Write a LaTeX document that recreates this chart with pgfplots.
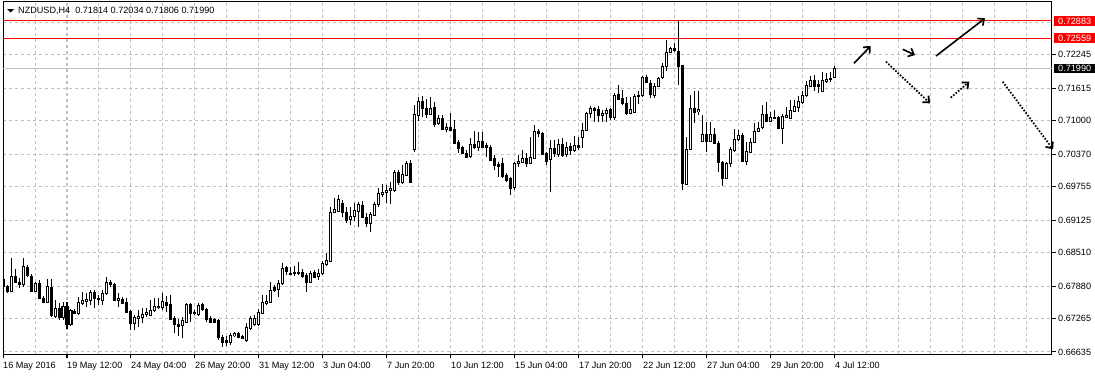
\documentclass[border=0pt]{standalone}
\usepackage{pgfplots}
\usepackage{pgfplotstable}
\pgfplotsset{compat=1.18}
\usetikzlibrary{arrows.meta}
\usepackage{fontspec}
\setmainfont{Liberation Sans}
\newcommand{\lblfont}{\fontsize{9.1}{11}\selectfont}
\definecolor{gridgray}{RGB}{192,192,192}
\definecolor{mtred}{RGB}{255,0,0}

\pgfplotstableread{
i o h l c
0 0.67994 0.68013 0.67805 0.67862
1 0.67862 0.67900 0.67748 0.67786
2 0.67786 0.68409 0.67767 0.68069
3 0.68069 0.68201 0.67937 0.67956
4 0.67956 0.68031 0.67843 0.67918
5 0.67900 0.68409 0.67862 0.68239
6 0.68239 0.68276 0.68050 0.68088
7 0.68069 0.68107 0.67767 0.67786
8 0.67786 0.67956 0.67767 0.67937
9 0.67937 0.67994 0.67635 0.67654
10 0.67654 0.67692 0.67559 0.67578
11 0.67578 0.68013 0.67559 0.67862
12 0.67862 0.68013 0.67295 0.67333
13 0.67314 0.67616 0.67276 0.67465
14 0.67465 0.67559 0.67239 0.67295
15 0.67295 0.67578 0.67239 0.67503
16 0.67503 0.67578 0.67069 0.67163
17 0.67163 0.67446 0.67126 0.67427
18 0.67408 0.67446 0.67351 0.67370
19 0.67370 0.67673 0.67333 0.67578
20 0.67559 0.67767 0.67522 0.67616
21 0.67597 0.67748 0.67484 0.67635
22 0.67616 0.67805 0.67522 0.67767
23 0.67767 0.67805 0.67465 0.67654
24 0.67654 0.67711 0.67522 0.67635
25 0.67616 0.67805 0.67522 0.67748
26 0.67748 0.68050 0.67711 0.67956
27 0.67956 0.67994 0.67862 0.67900
28 0.67918 0.67937 0.67597 0.67616
29 0.67616 0.67748 0.67484 0.67654
30 0.67635 0.67673 0.67540 0.67559
31 0.67578 0.67654 0.67370 0.67389
32 0.67408 0.67427 0.67050 0.67182
33 0.67182 0.67333 0.67050 0.67295
34 0.67276 0.67427 0.67107 0.67314
35 0.67295 0.67465 0.67182 0.67351
36 0.67351 0.67465 0.67295 0.67389
37 0.67333 0.67616 0.67314 0.67427
38 0.67427 0.67654 0.67389 0.67503
39 0.67484 0.67654 0.67446 0.67503
40 0.67484 0.67748 0.67427 0.67597
41 0.67578 0.67692 0.67389 0.67522
42 0.67540 0.67711 0.67239 0.67258
43 0.67276 0.67314 0.66993 0.67163
44 0.67163 0.67258 0.66937 0.67126
45 0.67145 0.67295 0.66899 0.67239
46 0.67201 0.67559 0.67182 0.67540
47 0.67540 0.67559 0.67201 0.67370
48 0.67370 0.67427 0.67333 0.67389
49 0.67351 0.67559 0.67314 0.67522
50 0.67522 0.67559 0.67408 0.67446
51 0.67446 0.67465 0.67201 0.67258
52 0.67276 0.67314 0.67182 0.67201
53 0.67239 0.67276 0.67182 0.67201
54 0.67239 0.67258 0.66861 0.66918
55 0.66918 0.66956 0.66729 0.66823
56 0.66861 0.66937 0.66748 0.66823
57 0.66823 0.66993 0.66767 0.66937
58 0.66937 0.67012 0.66918 0.66993
59 0.66993 0.67012 0.66899 0.66918
60 0.66937 0.66956 0.66880 0.66899
61 0.66861 0.67182 0.66823 0.67107
62 0.67088 0.67314 0.67050 0.67276
63 0.67163 0.67333 0.67126 0.67276
64 0.67163 0.67446 0.67126 0.67389
65 0.67370 0.67711 0.67351 0.67578
66 0.67559 0.67711 0.67522 0.67597
67 0.67578 0.67956 0.67559 0.67805
68 0.67843 0.67900 0.67767 0.67805
69 0.67824 0.67994 0.67673 0.67937
70 0.67937 0.68314 0.67900 0.68220
71 0.68220 0.68258 0.68088 0.68163
72 0.68125 0.68239 0.68088 0.68107
73 0.68144 0.68258 0.68069 0.68125
74 0.68144 0.68333 0.68088 0.68125
75 0.68144 0.68201 0.68031 0.68069
76 0.68088 0.68125 0.67767 0.67956
77 0.67956 0.68163 0.67937 0.68125
78 0.68144 0.68182 0.68031 0.68050
79 0.68069 0.68201 0.67994 0.68125
80 0.68125 0.68352 0.68088 0.68314
81 0.68295 0.68503 0.68258 0.68371
82 0.68352 0.69372 0.68333 0.69277
83 0.69277 0.69542 0.69258 0.69334
84 0.69296 0.69599 0.69277 0.69523
85 0.69447 0.69504 0.69183 0.69277
86 0.69277 0.69372 0.69069 0.69126
87 0.69145 0.69372 0.69032 0.69183
88 0.69183 0.69447 0.69107 0.69315
89 0.69296 0.69466 0.68994 0.69410
90 0.69410 0.69485 0.69164 0.69183
91 0.69183 0.69258 0.68994 0.69069
92 0.69069 0.69277 0.68900 0.69239
93 0.69220 0.69466 0.69201 0.69428
94 0.69428 0.69731 0.69372 0.69636
95 0.69617 0.69805 0.69561 0.69655
96 0.69655 0.69787 0.69447 0.69693
97 0.69693 0.69843 0.69428 0.69731
98 0.69693 0.70070 0.69655 0.70032
99 0.70032 0.70070 0.69787 0.69843
100 0.69843 0.70165 0.69805 0.69994
101 0.69976 0.70240 0.69957 0.70202
102 0.70202 0.70259 0.69824 0.69843
103 0.70467 0.71297 0.70410 0.71127
104 0.71108 0.71448 0.70995 0.71372
105 0.71372 0.71467 0.71070 0.71240
106 0.71240 0.71410 0.71052 0.71127
107 0.71127 0.71448 0.71108 0.71240
108 0.71259 0.71353 0.70881 0.70938
109 0.70957 0.71108 0.70919 0.71052
110 0.71052 0.71108 0.70825 0.70844
111 0.70844 0.70957 0.70787 0.70881
112 0.70881 0.71146 0.70806 0.70825
113 0.70844 0.71014 0.70560 0.70579
114 0.70598 0.70636 0.70391 0.70486
115 0.70486 0.70523 0.70372 0.70391
116 0.70391 0.70448 0.70297 0.70316
117 0.70316 0.70674 0.70297 0.70560
118 0.70560 0.70806 0.70467 0.70504
119 0.70504 0.70787 0.70429 0.70617
120 0.70617 0.70787 0.70486 0.70504
121 0.70542 0.70579 0.70316 0.70486
122 0.70486 0.70542 0.70240 0.70259
123 0.70278 0.70353 0.70070 0.70146
124 0.70184 0.70221 0.69938 0.70146
125 0.70184 0.70297 0.69919 0.69957
126 0.69976 0.70013 0.69843 0.69881
127 0.69919 0.69938 0.69599 0.69731
128 0.69731 0.70221 0.69693 0.70202
129 0.70202 0.70353 0.70127 0.70240
130 0.70221 0.70448 0.70202 0.70297
131 0.70297 0.70391 0.70127 0.70202
132 0.70202 0.70693 0.70184 0.70316
133 0.70297 0.70919 0.70278 0.70806
134 0.70806 0.70844 0.70693 0.70768
135 0.70768 0.70787 0.70353 0.70372
136 0.70391 0.70410 0.70165 0.70240
137 0.70259 0.70636 0.69655 0.70467
138 0.70467 0.70636 0.70316 0.70372
139 0.70372 0.70655 0.70316 0.70560
140 0.70560 0.70674 0.70316 0.70353
141 0.70372 0.70598 0.70316 0.70504
142 0.70523 0.70579 0.70353 0.70448
143 0.70448 0.70712 0.70410 0.70542
144 0.70542 0.70693 0.70448 0.70504
145 0.70693 0.70957 0.70486 0.70825
146 0.70825 0.71165 0.70806 0.71146
147 0.71146 0.71278 0.71052 0.71240
148 0.71240 0.71259 0.70976 0.71203
149 0.71221 0.71278 0.70976 0.71108
150 0.71108 0.71203 0.70976 0.71146
151 0.71146 0.71240 0.70976 0.71203
152 0.71221 0.71240 0.71014 0.71070
153 0.71070 0.71524 0.71014 0.71486
154 0.71486 0.71675 0.71391 0.71410
155 0.71429 0.71580 0.71297 0.71334
156 0.71334 0.71448 0.71108 0.71146
157 0.71146 0.71448 0.71127 0.71221
158 0.71165 0.71505 0.71146 0.71467
159 0.71486 0.71561 0.71315 0.71467
160 0.71467 0.71845 0.71448 0.71807
161 0.71826 0.71864 0.71712 0.71731
162 0.71712 0.71769 0.71429 0.71486
163 0.71486 0.71712 0.71429 0.71656
164 0.71656 0.71826 0.71637 0.71807
165 0.71807 0.72090 0.71788 0.72033
166 0.72033 0.72524 0.71939 0.72297
167 0.72297 0.72392 0.72278 0.72373
168 0.72373 0.72467 0.72297 0.72335
169 0.72316 0.72883 0.71675 0.72033
170 0.72052 0.72052 0.69693 0.69824
171 0.69805 0.70693 0.69787 0.70467
172 0.70467 0.71486 0.70448 0.71240
173 0.71240 0.71561 0.70957 0.71165
174 0.71165 0.71561 0.71108 0.71221
175 0.70617 0.71108 0.70598 0.70749
176 0.70749 0.70976 0.70410 0.70617
177 0.70617 0.70976 0.70598 0.70749
178 0.70749 0.70863 0.70560 0.70579
179 0.70579 0.70617 0.70032 0.70221
180 0.70221 0.70240 0.69768 0.69919
181 0.69919 0.70221 0.69900 0.70202
182 0.70202 0.70504 0.70127 0.70448
183 0.70448 0.70844 0.70410 0.70655
184 0.70655 0.70825 0.70617 0.70730
185 0.70730 0.70768 0.70221 0.70240
186 0.70240 0.70598 0.70165 0.70429
187 0.70410 0.70674 0.70391 0.70598
188 0.70598 0.70957 0.70579 0.70806
189 0.70806 0.70976 0.70787 0.70863
190 0.70863 0.71297 0.70844 0.71127
191 0.71127 0.71353 0.70976 0.70995
192 0.70995 0.71165 0.70976 0.71070
193 0.71070 0.71203 0.71052 0.71052
194 0.71070 0.71089 0.70844 0.70863
195 0.70863 0.71127 0.70560 0.71089
196 0.71070 0.71259 0.71052 0.71108
197 0.71052 0.71391 0.71033 0.71203
198 0.71184 0.71391 0.71165 0.71278
199 0.71259 0.71467 0.71165 0.71372
200 0.71353 0.71561 0.71315 0.71486
201 0.71486 0.71750 0.71448 0.71675
202 0.71656 0.71845 0.71637 0.71769
203 0.71769 0.71864 0.71561 0.71656
204 0.71693 0.71769 0.71524 0.71656
205 0.71561 0.71920 0.71542 0.71769
206 0.71750 0.71901 0.71712 0.71788
207 0.71807 0.71920 0.71731 0.71788
208 0.71814 0.72034 0.71806 0.71990
}\candles

\begin{document}
\begin{tikzpicture}
\useasboundingbox (-3pt,-22pt) rectangle (1092pt,354pt);
\begin{axis}[
  at={(0pt,0pt)}, anchor=south west,
  scale only axis, width=1049pt, height=353pt,
  xmin=0, xmax=262.25, ymin=0.665969, ymax=0.732601,
  axis line style={black, line width=1pt},
  tick align=outside, major tick length=4pt, minor tick length=0pt,
  tick style={black, line width=1pt},
  xtick pos=left, ytick pos=right,
  xtick={0,16,...,208},
  xticklabels={16 May 2016, 19 May 12:00, 24 May 04:00, 26 May 20:00, 31 May 12:00, 3 Jun 04:00, 7 Jun 20:00, 10 Jun 12:00, 15 Jun 04:00, 17 Jun 20:00, 22 Jun 12:00, 27 Jun 04:00, 29 Jun 20:00, 4 Jul 12:00},
  minor xtick={8,24,40,56,72,88,104,120,136,152,168,184,200,216,224,232,240,248,256},
  ytick={0.66635,0.67265,0.67880,0.68510,0.69125,0.69755,0.70370,0.71000,0.71615,0.72245},
  yticklabels={0.66635,0.67265,0.67880,0.68510,0.69125,0.69755,0.70370,0.71000,0.71615,0.72245},
  minor ytick={0.72863},
  xmajorgrids, xminorgrids, ymajorgrids, yminorgrids,
  grid style={gridgray, line width=1pt, dash pattern=on 3pt off 3pt},
  minor grid style={gridgray, line width=1pt, dash pattern=on 3pt off 3pt},
  xticklabel style={font=\lblfont, anchor=north west, inner sep=0pt, yshift=-4pt},
  yticklabel style={font=\lblfont, anchor=west, inner sep=0pt, xshift=2pt},
]
% price lines
\addplot[gridgray, line width=1pt] coordinates {(0,0.71990) (262.25,0.71990)};
\addplot[mtred, line width=1pt] coordinates {(0,0.72883) (262.25,0.72883)};
\addplot[mtred, line width=1pt] coordinates {(0,0.72559) (262.25,0.72559)};
% wicks
\addplot[draw=none, no marks,
  error bars/.cd, y dir=plus, y explicit, error mark=none,
  error bar style={line width=1pt, draw=black, solid}]
  table[x=i, y=l, y error expr={\thisrow{h}-\thisrow{l}}] {\candles};
% bearish bodies
\addplot[draw=none, no marks,
  restrict expr to domain={\thisrow{o}-\thisrow{c}}{0:1},
  error bars/.cd, y dir=both, y explicit, error mark=none,
  error bar style={line width=3pt, draw=black, solid}]
  table[x=i, y expr={(\thisrow{o}+\thisrow{c})/2}, y error expr={(\thisrow{o}-\thisrow{c})/2+0.0000944}] {\candles};
% bullish bodies: outline
\addplot[draw=none, no marks,
  restrict expr to domain={\thisrow{c}-\thisrow{o}}{0.000001:1},
  error bars/.cd, y dir=both, y explicit, error mark=none,
  error bar style={line width=3pt, draw=black, solid}]
  table[x=i, y expr={(\thisrow{o}+\thisrow{c})/2}, y error expr={(\thisrow{c}-\thisrow{o})/2+0.0000944}] {\candles};
% bullish bodies: hollow inside
\addplot[draw=none, no marks,
  restrict expr to domain={\thisrow{c}-\thisrow{o}}{0.000001:1},
  error bars/.cd, y dir=both, y explicit, error mark=none,
  error bar style={line width=1pt, draw=white, solid}]
  table[x=i, y expr={(\thisrow{o}+\thisrow{c})/2}, y error expr={max((\thisrow{c}-\thisrow{o})/2-0.0000944,0)}] {\candles};
\coordinate (rA) at (axis cs:262.25,0.72883);
\coordinate (rB) at (axis cs:262.25,0.72559);
\coordinate (rC) at (axis cs:262.25,0.71990);
\end{axis}
% price tags on the right
\node[fill=mtred, text=white, font=\lblfont, anchor=west, xshift=2pt, minimum width=41pt, inner xsep=0pt, inner ysep=1.5pt, text height=6.5pt, text depth=0pt] at (rA) {0.72883};
\node[fill=mtred, text=white, font=\lblfont, anchor=west, xshift=2pt, minimum width=41pt, inner xsep=0pt, inner ysep=1.5pt, text height=6.5pt, text depth=0pt] at (rB) {0.72559};
\node[fill=black, text=white, font=\lblfont, anchor=west, xshift=2pt, minimum width=41pt, inner xsep=0pt, inner ysep=1.5pt, text height=6.5pt, text depth=0pt] at (rC) {0.71990};
% header
\fill (4pt,345pt) -- (11pt,345pt) -- (7.5pt,341.5pt) -- cycle;
\node[anchor=base west, inner sep=0pt, font=\lblfont] at (15pt,340.3pt) {NZDUSD,H4\ \ 0.71814 0.72034 0.71806 0.71990};
% hand-drawn arrows
\draw[line width=1.6pt, -{Straight Barb[length=5pt,width=9pt]}] (851pt,290.7pt) -- (867.7pt,308pt);
\draw[line width=1.6pt, -{Straight Barb[length=5pt,width=9pt]}] (899.7pt,304.7pt) -- (912pt,299pt);
\draw[line width=1.6pt, -{Straight Barb[length=5pt,width=9pt]}] (933pt,298pt) -- (982pt,335.7pt);
\draw[line width=1.8pt, dash pattern=on 1.6pt off 1.6pt, -{Straight Barb[length=5pt,width=9pt]}] (883pt,292.3pt) -- (927pt,250.7pt);
\draw[line width=1.8pt, dash pattern=on 1.6pt off 1.6pt, -{Straight Barb[length=5pt,width=9pt]}] (947.7pt,256.3pt) -- (966.3pt,272.3pt);
\draw[line width=1.8pt, dash pattern=on 1.6pt off 1.6pt, -{Straight Barb[length=5pt,width=9pt]}] (999.7pt,272.3pt) -- (1050pt,204.7pt);
\end{tikzpicture}
\end{document}
